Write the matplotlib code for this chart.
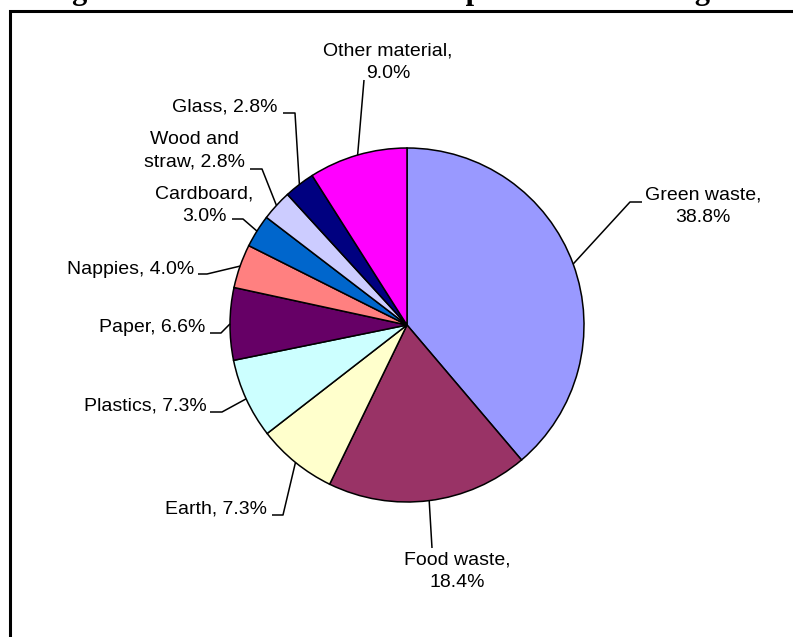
import matplotlib
matplotlib.use("Agg")
import matplotlib.pyplot as plt
import numpy as np

W, H = 793, 637

# ----------------------------
# Data
# ----------------------------

categories = ["Green waste", "Food waste", "Earth", "Plastics", "Paper",
              "Nappies", "Cardboard", "Wood and\nstraw", "Glass", "Other material"]
shares = [38.8, 18.4, 7.3, 7.3, 6.6, 4.0, 3.0, 2.8, 2.8, 9.0]
separators = [",\n", ",\n", ", ", ", ", ", ", ", ", ",\n", ", ", ", ", ",\n"]
colors = ["#9999FF", "#993366", "#FFFFCC", "#CCFFFF", "#660066",
          "#FF8080", "#0066CC", "#CCCCFF", "#000080", "#FF00FF"]

title = "Figure 4.5: Waste Material Composition of Garbage Stream"

# ----------------------------
# Layout (pixel coords, y measured from the top)
# ----------------------------

center = (407, 325)
radius = 177

label_pos = [(703, 206), (457, 571), (267, 509), (207, 406), (205, 327),
             (194, 269), (204, 205), (194, 151), (278, 107), (388, 62)]
label_ha = ["center", "center", "right", "right", "right",
            "right", "center", "center", "right", "center"]
leader_pts = [
    [(642, 202), (630, 202)],
    [(432, 548)],
    [(272, 515), (283, 515)],
    [(210, 412), (222, 412)],
    [(210, 333), (221, 333)],
    [(198, 274), (207, 274)],
    [(232, 219), (243, 219)],
    [(250, 169), (262, 169)],
    [(283, 113), (295, 113)],
    [(364, 80)],
]


def up(y):
    return H - y


fig = plt.figure(figsize=(W / 100, H / 100), dpi=100)
ax = fig.add_axes([0, 0, 1, 1])
ax.set_xlim(0, W)
ax.set_ylim(0, H)
ax.set_aspect("equal")
ax.axis("off")

cx, cy = center[0], up(center[1])
wedges, _ = ax.pie(
    shares,
    colors=colors,
    startangle=90,
    counterclock=False,
    center=(cx, cy),
    radius=radius,
    wedgeprops=dict(edgecolor="black", linewidth=1.1),
)
ax.set_xlim(0, W)
ax.set_ylim(0, H)

font = ["Liberation Sans", "Arial", "DejaVu Sans"]

for i, w in enumerate(wedges):
    mid = np.deg2rad((w.theta1 + w.theta2) / 2)
    ax_x = cx + radius * np.cos(mid)
    ax_y = cy + radius * np.sin(mid)

    pts = [(x, up(y)) for x, y in leader_pts[i]] + [(ax_x, ax_y)]
    xs, ys = zip(*pts)
    ax.plot(xs, ys, color="black", linewidth=1.1, solid_capstyle="butt")

    text = f"{categories[i]}{separators[i]}{shares[i]:.1f}%"
    tx, ty = label_pos[i]
    ax.text(tx, up(ty), text, ha=label_ha[i], va="center",
            multialignment="center", fontsize=14, family=font,
            linespacing=1.4, color="black")

# frame around the chart, cut off at right and bottom
ax.plot([9.5, 9.5, W + 5], [-5, up(10.5), up(10.5)], color="black",
        linewidth=2.2, solid_joinstyle="miter", clip_on=False)

# title, mostly cut off at the top edge
fig.text(45 / W, 1 + 1.0 / H, title, ha="left", va="baseline",
         fontsize=22, fontweight="bold", family=["Liberation Serif", "DejaVu Serif"])

fig.savefig("out.png", dpi=100)
